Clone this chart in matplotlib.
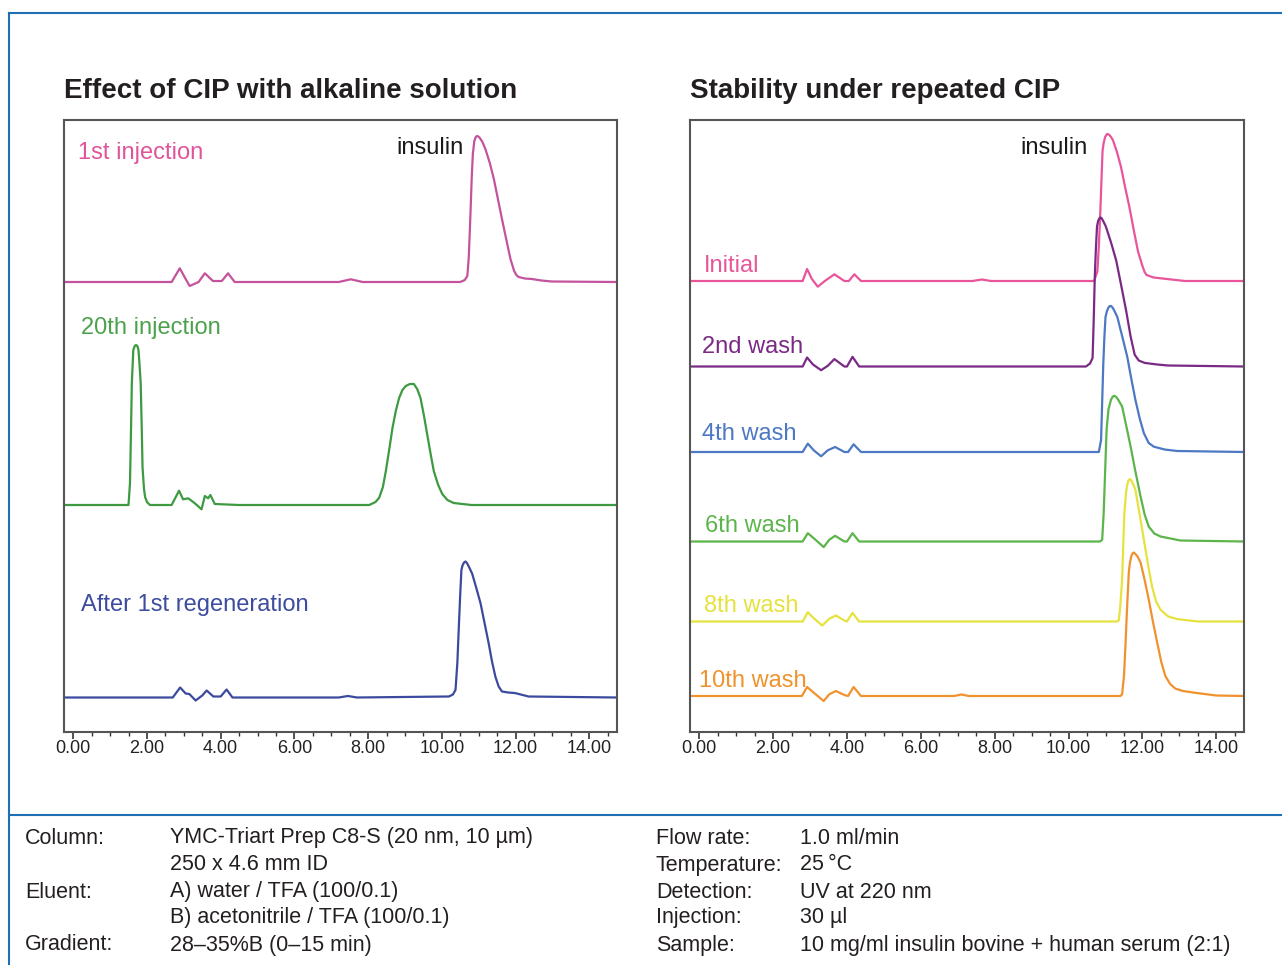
"""Two stacked chromatogram panels (CIP effect / repeated CIP) plus the conditions table."""

import matplotlib

matplotlib.use("Agg")
import matplotlib.pyplot as plt
from matplotlib.lines import Line2D
from matplotlib.ticker import MultipleLocator

plt.rcParams["font.family"] = ["Liberation Sans", "DejaVu Sans"]

# ---- data: (time [min], signal above baseline [a.u.]) ----
inj1 = [(-0.25, 0), (2.67, 0), (2.89, 13.7), (3.05, 3), (3.16, -4), (3.40, 0), (3.57, 8.7),
        (3.79, 1), (4.03, 1), (4.20, 8.7), (4.38, 0), (7.2, 0), (7.53, 2.7), (7.85, 0),
        (10.50, 0), (10.62, 2), (10.69, 6), (10.73, 25), (10.77, 63), (10.81, 105), (10.84, 128),
        (10.88, 141), (10.92, 145), (10.95, 146), (10.99, 145.5), (11.03, 144), (11.10, 140),
        (11.18, 133), (11.30, 119), (11.41, 103), (11.52, 83), (11.63, 63), (11.75, 42),
        (11.86, 23), (11.96, 11), (12.02, 7), (12.08, 5), (12.25, 3.5), (12.44, 3), (12.70, 1.5),
        (12.98, 0.5), (14.75, 0)]
inj20 = [(-0.25, 0), (1.45, 0), (1.50, 0), (1.54, 22), (1.57, 80), (1.59, 122), (1.63, 155),
         (1.67, 159), (1.70, 160), (1.74, 159), (1.77, 155), (1.80, 140), (1.83, 122), (1.86, 75),
         (1.88, 38), (1.92, 16), (1.95, 8), (2.00, 3), (2.08, 0), (2.67, 0), (2.87, 14.3),
         (2.98, 5.7), (3.12, 6.7), (3.30, 1.7), (3.48, -4.3), (3.57, 9), (3.66, 6.7), (3.72, 10),
         (3.84, 1), (4.5, 0), (8.03, 0), (8.20, 3), (8.30, 7.3), (8.40, 18), (8.48, 34),
         (8.57, 55), (8.66, 77), (8.75, 94), (8.84, 107), (8.93, 115), (9.02, 119), (9.13, 121),
         (9.24, 121), (9.33, 116), (9.42, 107), (9.51, 90), (9.60, 71), (9.69, 52), (9.78, 34),
         (9.90, 20), (10.01, 11), (10.15, 5), (10.32, 2), (10.8, 0), (14.75, 0)]
regen1 = [(-0.25, 0), (2.70, 0), (2.90, 10), (3.05, 4), (3.15, 3.5), (3.32, -3), (3.50, 2),
          (3.62, 7), (3.80, 1), (4.00, 1), (4.16, 8), (4.32, 0), (7.2, 0), (7.45, 1.5), (7.7, 0),
          (10.19, 1), (10.30, 3), (10.37, 7.7), (10.42, 35), (10.46, 71), (10.50, 105),
          (10.53, 127.7), (10.56, 132), (10.60, 135), (10.64, 136), (10.68, 134.5), (10.73, 131),
          (10.82, 124), (10.93, 110), (11.05, 94), (11.16, 74), (11.27, 54), (11.36, 36),
          (11.45, 21), (11.54, 11), (11.63, 6), (11.80, 5), (11.99, 4.4), (12.35, 1), (14.75, 0)]

wash0 = [(-0.25, 0), (2.80, 0), (2.92, 12), (3.05, 2), (3.21, -5.7), (3.40, 0), (3.66, 6.7),
         (3.93, 0), (4.05, 0), (4.20, 6.7), (4.38, 0), (7.4, 0), (7.65, 1.5), (7.9, 0),
         (10.69, 0), (10.78, 9.5), (10.82, 35), (10.86, 70), (10.89, 100), (10.92, 130),
         (10.95, 138), (10.99, 144), (11.04, 147), (11.09, 146.5), (11.14, 144.5), (11.20, 141),
         (11.31, 129), (11.42, 114), (11.53, 94), (11.65, 73.4), (11.77, 50), (11.88, 29.6),
         (12.00, 15), (12.06, 9), (12.11, 6), (12.30, 3.5), (12.52, 2.6), (13.15, 0), (14.75, 0)]
wash2 = [(-0.25, 0), (2.80, 0), (2.92, 9), (3.08, 2), (3.30, -3.7), (3.48, 0.7), (3.66, 7.4),
         (3.93, 0), (4.00, 0), (4.15, 9.7), (4.33, 0), (10.47, 0), (10.58, 3), (10.65, 8.5),
         (10.68, 45), (10.71, 90), (10.74, 118), (10.77, 140), (10.80, 145.5), (10.83, 148),
         (10.86, 149), (10.89, 148.5), (10.93, 146), (11.01, 140), (11.15, 124), (11.29, 106),
         (11.42, 82), (11.56, 55.6), (11.68, 30), (11.79, 11.8), (11.90, 6), (12.06, 3.6),
         (12.40, 2), (12.70, 1), (14.75, 0)]
wash4 = [(-0.25, 0), (2.80, 0), (2.94, 8.4), (3.10, 1.7), (3.30, -4.3), (3.48, 1.7), (3.68, 5),
         (3.93, 0), (4.03, 0), (4.18, 7.7), (4.38, 0), (10.82, 0), (10.88, 12), (10.91, 50),
         (10.94, 88), (10.97, 115), (11.00, 135), (11.04, 141), (11.08, 144.5), (11.12, 146),
         (11.15, 146), (11.19, 144.5), (11.23, 142), (11.32, 135), (11.45, 116), (11.59, 95),
         (11.70, 73), (11.81, 52), (11.93, 33), (12.04, 18.7), (12.17, 9), (12.31, 5.3),
         (12.60, 2.5), (12.94, 1), (14.75, 0)]
wash6 = [(-0.25, 0), (2.80, 0), (2.94, 8.3), (3.10, 3.3), (3.37, -5.6), (3.52, 1.7), (3.68, 5.7),
         (3.93, 0), (4.00, 0), (4.15, 8.3), (4.33, 0), (10.85, 0), (10.91, 1.7), (10.95, 28),
         (10.99, 70), (11.03, 112), (11.08, 132), (11.15, 142), (11.20, 145), (11.24, 145.7),
         (11.29, 144.5), (11.34, 142), (11.45, 135), (11.56, 116), (11.68, 95), (11.81, 70),
         (11.95, 45), (12.06, 27), (12.17, 15), (12.32, 8), (12.49, 5), (13.03, 1), (14.75, 0)]
wash8 = [(-0.25, 0), (2.80, 0), (2.94, 9.3), (3.10, 3.3), (3.33, -4), (3.52, 2.7), (3.70, 6),
         (3.93, 1), (4.00, 0), (4.15, 8.7), (4.33, 0), (11.30, 0), (11.36, 1), (11.40, 15),
         (11.45, 41.7), (11.48, 75), (11.51, 108), (11.56, 130), (11.59, 137), (11.62, 141),
         (11.66, 142.4), (11.70, 141), (11.73, 139), (11.81, 131.7), (11.92, 108), (12.04, 81.7),
         (12.15, 57), (12.26, 35), (12.37, 20), (12.49, 11.7), (12.70, 5), (12.94, 2.4),
         (13.50, 0), (14.75, 0)]
wash10 = [(-0.25, 0), (2.78, 0), (2.92, 9), (3.10, 3.3), (3.37, -5), (3.52, 1.7), (3.70, 5),
          (3.93, 1), (4.03, 0), (4.18, 9), (4.38, 0), (6.9, 0), (7.1, 1.5), (7.3, 0),
          (11.40, 0), (11.45, 1.7), (11.50, 20), (11.54, 50), (11.58, 85), (11.63, 123),
          (11.66, 133), (11.70, 140), (11.74, 143), (11.77, 143.4), (11.81, 142), (11.86, 140),
          (11.95, 133.4), (12.06, 116), (12.17, 96.7), (12.28, 75), (12.40, 53.4), (12.51, 34),
          (12.62, 20), (12.75, 12), (12.89, 7.4), (13.10, 5), (13.39, 3.4), (14.00, 0.5),
          (14.75, 0)]

left_names = ["1st injection", "20th injection", "After 1st regeneration"]
right_names = ["Initial", "2nd wash", "4th wash", "6th wash", "8th wash", "10th wash"]
tick_minutes = [0, 2, 4, 6, 8, 10, 12, 14]

cond_left = [("Column:", "YMC-Triart Prep C8-S (20 nm, 10 µm)"), ("", "250 x 4.6 mm ID"),
             ("Eluent:", "A) water / TFA (100/0.1)"), ("", "B) acetonitrile / TFA (100/0.1)"),
             ("Gradient:", "28\u201335%B (0\u201315 min)")]
cond_right = [("Flow rate:", "1.0 ml/min"), ("Temperature:", "25\u2009°C"),
              ("Detection:", "UV at 220 nm"), ("Injection:", "30 µl"),
              ("Sample:", "10 mg/ml insulin bovine + human serum (2:1)")]

# ---- layout (figure is 1282 x 965 px) ----
W, H = 1282, 965
fig = plt.figure(figsize=(W / 100, H / 100), dpi=100)


def px_axes(x0, y0, x1, y1):
    return fig.add_axes([x0 / W, 1 - y1 / H, (x1 - x0) / W, (y1 - y0) / H])


def style_axes(ax):
    ax.set_xlim(-0.25, 14.75)
    ax.set_ylim(0, 612)
    ax.set_yticks([])
    ax.set_xticks(tick_minutes)
    ax.set_xticklabels([f"{m:.2f}" for m in tick_minutes], fontsize=13, color="#222222")
    ax.xaxis.set_minor_locator(MultipleLocator(0.5))
    ax.tick_params(axis="x", which="major", length=5, width=1.2, color="#333333", pad=1)
    ax.tick_params(axis="x", which="minor", length=3, width=1.0, color="#333333")
    for sp in ax.spines.values():
        sp.set_color("#555555")
        sp.set_linewidth(1.5)


def draw(ax, pts, base, color):
    ax.plot([p[0] for p in pts], [base + p[1] for p in pts], color=color, lw=1.6,
            solid_joinstyle="round")


axL = px_axes(64, 120, 617, 732)
axR = px_axes(690, 120, 1244, 732)
style_axes(axL)
style_axes(axR)

left_traces = [inj1, inj20, regen1]
left_base = [450, 227, 34.5]
left_line = ["#c4529c", "#3d9a40", "#3b4a9e"]
left_text = ["#e0559a", "#4ca24c", "#3d4c9e"]
left_lab = [(0.12, 579), (0.2, 404), (0.2, 127)]
for pts, b, c in zip(left_traces, left_base, left_line):
    draw(axL, pts, b, c)
for name, (x, y), c in zip(left_names, left_lab, left_text):
    axL.text(x, y, name, color=c, fontsize=17, va="center", ha="left")
axL.text(10.6, 584, "insulin", color="#1a1a1a", fontsize=17, va="center", ha="right")

right_traces = [wash0, wash2, wash4, wash6, wash8, wash10]
right_base = [451, 365.5, 280, 190.5, 110.5, 36]
right_line = ["#e8559a", "#7a2a84", "#4c78c4", "#5cb54a", "#e6e23e", "#f0922e"]
right_text = ["#e8559a", "#7a2a84", "#4c78c4", "#5cb54a", "#e6e23e", "#f0922e"]
right_lab = [(0.13, 466), (0.07, 385), (0.07, 298), (0.15, 206), (0.13, 126), (0.0, 51)]
for pts, b, c in zip(right_traces, right_base, right_line):
    draw(axR, pts, b, c)
for name, (x, y), c in zip(right_names, right_lab, right_text):
    axR.text(x, y, name, color=c, fontsize=17, va="center", ha="left")
axR.text(10.51, 584, "insulin", color="#1a1a1a", fontsize=17, va="center", ha="right")

# panel titles
fig.text(64 / W, 1 - 91 / H, "Effect of CIP with alkaline solution", fontsize=20,
         fontweight="bold", color="#231f20", va="center", ha="left")
fig.text(690 / W, 1 - 91 / H, "Stability under repeated CIP", fontsize=20,
         fontweight="bold", color="#231f20", va="center", ha="left")

# blue frame lines
blue = "#1f6fb5"
fig.add_artist(Line2D([9 / W, 1], [1 - 13 / H, 1 - 13 / H], color=blue, lw=1.5))
fig.add_artist(Line2D([9 / W, 9 / W], [0, 1 - 13 / H], color=blue, lw=1.5))
fig.add_artist(Line2D([9 / W, 1], [1 - 815 / H, 1 - 815 / H], color=blue, lw=1.5))

# conditions table
rows_y = [838, 865, 892, 918, 945]
for (lab, val), y in zip(cond_left, rows_y):
    fig.text(25 / W, 1 - y / H, lab, fontsize=15.5, color="#231f20", va="center")
    fig.text(170 / W, 1 - y / H, val, fontsize=15.5, color="#231f20", va="center")
for (lab, val), y in zip(cond_right, rows_y):
    fig.text(656 / W, 1 - y / H, lab, fontsize=15.5, color="#231f20", va="center")
    fig.text(800 / W, 1 - y / H, val, fontsize=15.5, color="#231f20", va="center")

fig.savefig("out.png", dpi=100, facecolor="white")
